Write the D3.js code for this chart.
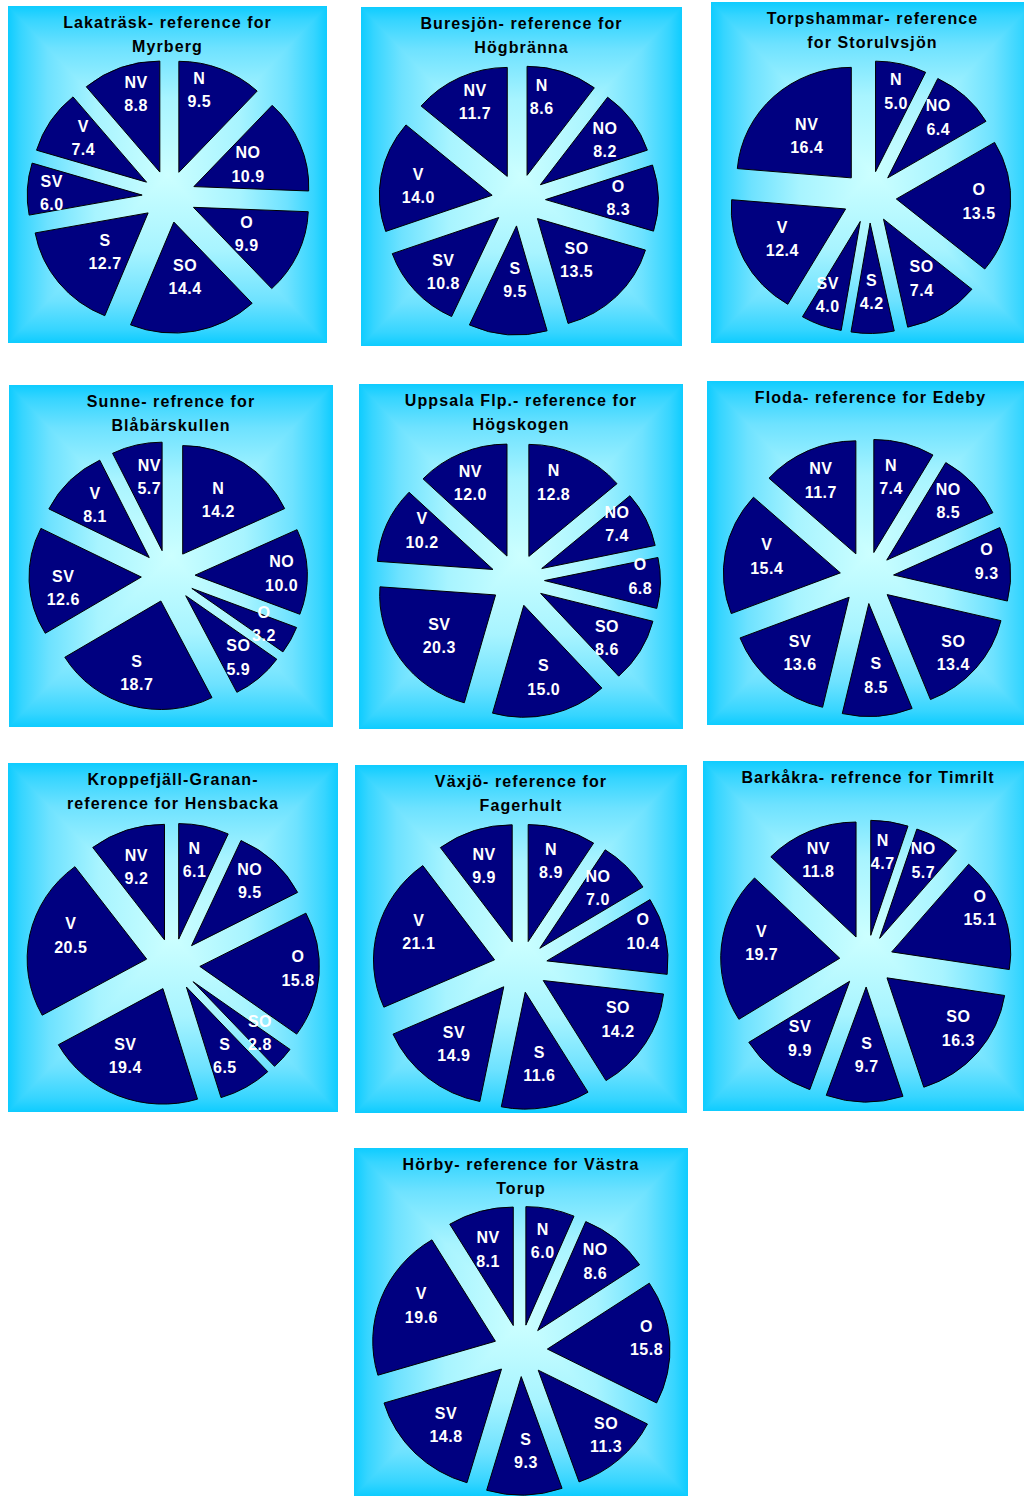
<!DOCTYPE html>
<html>
<head>
<meta charset="utf-8">
<script src="https://cdn.jsdelivr.net/npm/d3@7"></script>
<style>
  html, body { margin: 0; padding: 0; background: #ffffff; }
  svg { display: block; }
</style>
</head>
<body>
<svg id="chart" width="1024" height="1496"></svg>
<script>
// Wind direction sectors, clockwise from north
const directions = ["N", "NO", "O", "SO", "S", "SV", "V", "NV"];

// Share of time (%) per direction for each reference station
const lakatrask   = [9.5, 10.9, 9.9, 14.4, 12.7, 6.0, 7.4, 8.8];
const buresjon    = [8.6, 8.2, 8.3, 13.5, 9.5, 10.8, 14.0, 11.7];
const torpshammar = [5.0, 6.4, 13.5, 7.4, 4.2, 4.0, 12.4, 16.4];
const sunne       = [14.2, 10.0, 3.2, 5.9, 18.7, 12.6, 8.1, 5.7];
const uppsala     = [12.8, 7.4, 6.8, 8.6, 15.0, 20.3, 10.2, 12.0];
const floda       = [7.4, 8.5, 9.3, 13.4, 8.5, 13.6, 15.4, 11.7];
const kroppefjall = [6.1, 9.5, 15.8, 2.8, 6.5, 19.4, 20.5, 9.2];
const vaxjo       = [8.9, 7.0, 10.4, 14.2, 11.6, 14.9, 21.1, 9.9];
const barkakra    = [4.7, 5.7, 15.1, 16.3, 9.7, 9.9, 19.7, 11.8];
const horby       = [6.0, 8.6, 15.8, 11.3, 9.3, 14.8, 19.6, 8.1];

const stationValues = [lakatrask, buresjon, torpshammar, sunne, uppsala,
                       floda, kroppefjall, vaxjo, barkakra, horby];

const titles = [
  ["Lakaträsk- reference for", "Myrberg"],
  ["Buresjön- reference for", "Högbränna"],
  ["Torpshammar- reference", "for Storulvsjön"],
  ["Sunne- refrence for", "Blåbärskullen"],
  ["Uppsala Flp.- reference for", "Högskogen"],
  ["Floda- reference for Edeby"],
  ["Kroppefjäll-Granan-", "reference for Hensbacka"],
  ["Växjö- reference for", "Fagerhult"],
  ["Barkåkra- refrence for Timrilt"],
  ["Hörby- reference for Västra", "Torup"]
];

// Panel frames and pie placement
const panels = [
  {x: 8,   y: 6,    w: 319, h: 337, cx: 169,   cy: 196.5,  r: 111},
  {x: 361, y: 7,    w: 321, h: 339, cx: 518.6, cy: 200,    r: 109},
  {x: 711, y: 2,    w: 323, h: 341, cx: 869.5, cy: 197,    r: 110.5},
  {x: 9,   y: 385,  w: 324, h: 342, cx: 168.2, cy: 576,    r: 108.5},
  {x: 359, y: 384,  w: 324, h: 345, cx: 517.6, cy: 580,    r: 112},
  {x: 707, y: 381,  w: 327, h: 344, cx: 866.8, cy: 577.6,  r: 113},
  {x: 8,   y: 763,  w: 330, h: 349, cx: 173,   cy: 964.5,  r: 115.5},
  {x: 355, y: 765,  w: 332, h: 348, cx: 520.6, cy: 966.5,  r: 117},
  {x: 703, y: 761,  w: 330, h: 350, cx: 866.5, cy: 961,    r: 115},
  {x: 354, y: 1148, w: 334, h: 348, cx: 520.5, cy: 1350.6, r: 118.5}
];

// Data label spot inside each slice: [share of radius, share of the slice's sweep]
const labelSpots = [
  [[.763,.314],[.512,.486],[.522,.561],[.502,.488],[.513,.432],[.787,.445],[.681,.575],[.735,.588]],
  [[.733,.279],[.705,.509],[.646,.475],[.515,.535],[.496,.427],[.699,.434],[.660,.452],[.743,.545]],
  [[.749,.532],[.705,.388],[.723,.463],[.630,.486],[.622,.501],[.724,.653],[.615,.523],[.545,.464]],
  [[.591,.498],[.771,.512],[.720,.391],[.736,.541],[.693,.526],[.702,.399],[.684,.496],[.691,.638]],
  [[.696,.362],[.763,.309],[.827,.352],[.696,.611],[.665,.472],[.606,.479],[.705,.649],[.729,.446]],
  [[.687,.407],[.744,.422],[.806,.422],[.766,.530],[.638,.465],[.648,.490],[.646,.543],[.717,.484]],
  [[.698,.449],[.745,.431],[.821,.450],[.711,.205],[.676,.555],[.661,.582],[.668,.573],[.676,.449]],
  [[.715,.467],[.706,.394],[.834,.364],[.700,.412],[.621,.480],[.637,.527],[.670,.576],[.689,.457]],
  [[.734,.431],[.771,.461],[.835,.382],[.743,.434],[.587,.467],[.648,.535],[.670,.575],[.741,.446]],
  [[.726,.471],[.750,.474],[.814,.447],[.777,.403],[.625,.445],[.654,.481],[.676,.576],[.677,.434]]
];

const xStretch = 1.035;   // pies are slightly wider than tall
const explode = 26;       // radial offset of every slice
const FONT = "'Liberation Sans', Arial, Helvetica, sans-serif";
const labelSize = 16, capH = 11.5, lineGap = 23.4;

const svg = d3.select("#chart");
const defs = svg.append("defs");

// Rectangular "from centre" background: mirrored horizontal + vertical gradients
const bgStops = [[0, "#CCFFFF"], [0.45, "#A8F4FF"], [0.75, "#6EE2FF"], [0.92, "#36D5FF"], [1, "#0ECCFF"]];
function mirroredGradient(id, horizontal) {
  const g = defs.append("linearGradient").attr("id", id)
    .attr("x1", 0).attr("y1", 0)
    .attr("x2", horizontal ? 1 : 0).attr("y2", horizontal ? 0 : 1);
  const list = [];
  bgStops.forEach(([t, c]) => { list.push([0.5 - 0.5 * t, c]); if (t > 0) list.push([0.5 + 0.5 * t, c]); });
  list.sort((a, b) => a[0] - b[0]);
  list.forEach(([o, c]) => g.append("stop").attr("offset", o).attr("stop-color", c));
}
mirroredGradient("bgH", true);
mirroredGradient("bgV", false);

const pie = d3.pie().sort(null).value(d => d.value);

panels.forEach((p, idx) => {
  const vals = stationValues[idx];
  const data = directions.map((k, i) => ({key: k, value: vals[i]}));
  const panel = svg.append("g");

  // background
  panel.append("rect")
    .attr("x", p.x).attr("y", p.y).attr("width", p.w).attr("height", p.h)
    .attr("fill", "url(#bgH)");
  const mx = p.x + p.w / 2, my = p.y + p.h / 2;
  panel.append("path")
    .attr("d", `M${p.x},${p.y}L${p.x + p.w},${p.y}L${mx},${my}Z` +
               `M${p.x},${p.y + p.h}L${p.x + p.w},${p.y + p.h}L${mx},${my}Z`)
    .attr("fill", "url(#bgV)");

  // title
  panel.selectAll("text.title").data(titles[idx]).join("text")
    .attr("class", "title")
    .attr("x", mx)
    .attr("y", (d, i) => p.y + 21.7 + i * 24)
    .attr("text-anchor", "middle")
    .attr("font-family", FONT).attr("font-weight", "bold")
    .attr("font-size", 16).attr("letter-spacing", "1.1px")
    .attr("fill", "#000000")
    .text(d => d);

  // exploded pie
  const arcs = pie(data);
  const arc = d3.arc().innerRadius(0).outerRadius(p.r);
  const g = panel.append("g").attr("transform", `translate(${p.cx},${p.cy})`);
  const sg = g.append("g").attr("transform", `scale(${xStretch},1)`);
  sg.selectAll("path").data(arcs).join("path")
    .attr("d", arc)
    .attr("transform", d => {
      const m = (d.startAngle + d.endAngle) / 2;
      return `translate(${explode * Math.sin(m)},${-explode * Math.cos(m)})`;
    })
    .attr("fill", "#000080")
    .attr("stroke", "#000000")
    .attr("stroke-width", 1)
    .attr("stroke-linejoin", "round")
    .attr("vector-effect", "non-scaling-stroke");

  // labels: direction + value
  arcs.forEach((d, i) => {
    const [rf, af] = labelSpots[idx][i];
    const m = (d.startAngle + d.endAngle) / 2;
    const a = d.startAngle + af * (d.endAngle - d.startAngle);
    const rr = rf * p.r;
    const lx = (explode * Math.sin(m) + rr * Math.sin(a)) * xStretch;
    const ly = -explode * Math.cos(m) - rr * Math.cos(a);
    const t = g.append("text")
      .attr("text-anchor", "middle")
      .attr("font-family", FONT).attr("font-weight", "bold")
      .attr("font-size", labelSize).attr("letter-spacing", "0.5px")
      .attr("fill", "#ffffff");
    [d.data.key, d.data.value.toFixed(1)].forEach((s, j) => {
      t.append("tspan")
        .attr("x", lx)
        .attr("y", ly + (j - 0.5) * lineGap + capH / 2)
        .text(s);
    });
  });
});
</script>
</body>
</html>
